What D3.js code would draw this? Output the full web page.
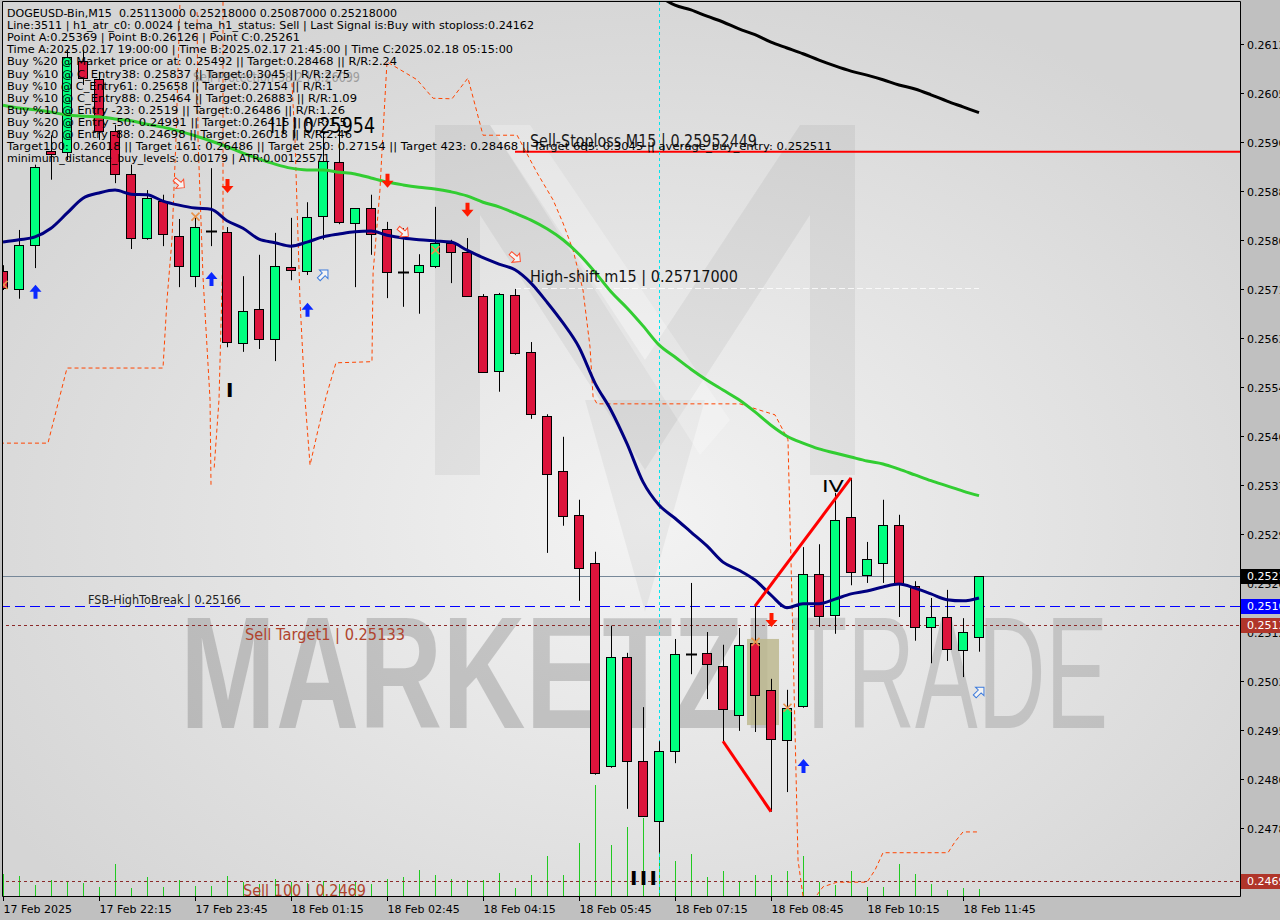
<!DOCTYPE html>
<html><head><meta charset="utf-8">
<script src="https://cdn.jsdelivr.net/npm/d3@7"></script>
<style>body{margin:0;background:#c0c0c0;} svg{display:block;} text{white-space:pre;}</style>
</head><body><svg id="c" width="1280" height="920"></svg>
<script>
// ---------------- DATA ----------------
const timeTicks = ["17 Feb 2025","17 Feb 22:15","17 Feb 23:45","18 Feb 01:15","18 Feb 02:45","18 Feb 04:15","18 Feb 05:45","18 Feb 07:15","18 Feb 08:45","18 Feb 10:15","18 Feb 11:45"];
const opens = [0.25746,0.25715,0.25791,0.25954,0.25952,0.26110,0.26078,0.25988,0.25914,0.25803,
0.25867,0.25807,0.25737,0.25815,0.25814,0.25621,0.25680,0.25628,0.25753,0.25746,
0.25840,0.25935,0.25829,0.25855,0.25819,0.25744,0.25744,0.25755,0.25795,0.25779,
0.25703,0.25573,0.25705,0.25606,0.25495,0.25400,0.25324,0.25241,0.24889,0.25078,
0.24898,0.24794,0.24915,0.25083,0.25085,0.25062,0.24977,0.25102,0.25021,0.24934,
0.24993,0.25222,0.25150,0.25320,0.25220,0.25241,0.25306,0.25201,0.25130,0.25147,
0.25090,0.25113];
const highs = [0.25756,0.25817,0.25930,0.25981,0.26129,0.26129,0.26091,0.25999,0.25930,0.25886,
0.25878,0.25836,0.25838,0.25924,0.25822,0.25737,0.25774,0.25812,0.25838,0.25865,
0.25987,0.25990,0.25855,0.25878,0.25831,0.25820,0.25775,0.25857,0.25800,0.25803,
0.25706,0.25708,0.25715,0.25623,0.25498,0.25459,0.25350,0.25260,0.25132,0.25085,
0.24991,0.24932,0.25109,0.25206,0.25121,0.25099,0.25128,0.25166,0.25040,0.25021,
0.25268,0.25273,0.25362,0.25388,0.25277,0.25350,0.25324,0.25209,0.25180,0.25194,
0.25145,0.25218];
const lows = [0.25713,0.25698,0.25751,0.25904,0.25938,0.26068,0.25973,0.25898,0.25784,0.25800,
0.25789,0.25718,0.25718,0.25789,0.25614,0.25606,0.25611,0.25590,0.25730,0.25739,
0.25800,0.25827,0.25718,0.25774,0.25699,0.25684,0.25672,0.25751,0.25725,0.25701,
0.25571,0.25537,0.25601,0.25490,0.25258,0.25305,0.25175,0.24874,0.24886,0.24815,
0.24801,0.24739,0.24894,0.25048,0.25005,0.24932,0.24950,0.24948,0.24810,0.24844,
0.24990,0.25130,0.25118,0.25202,0.25206,0.25206,0.25147,0.25106,0.25067,0.25071,
0.25043,0.25087];
const closes = [0.25717,0.25791,0.25926,0.25949,0.26116,0.26080,0.25988,0.25914,0.25803,0.25872,
0.25810,0.25755,0.25822,0.25815,0.25623,0.25677,0.25628,0.25755,0.25748,0.25840,
0.25936,0.25831,0.25855,0.25810,0.25744,0.25744,0.25756,0.25795,0.25779,0.25703,
0.25571,0.25706,0.25604,0.25498,0.25395,0.25322,0.25232,0.24877,0.25078,0.24898,
0.24803,0.24915,0.25083,0.25083,0.25066,0.24988,0.25099,0.25012,0.24936,0.24990,
0.25222,0.25150,0.25315,0.25225,0.25248,0.25306,0.25206,0.25130,0.25147,0.25092,
0.25121,0.25218];
const volumes = [550,500,275,400,350,325,225,800,200,475,225,400,250,250,500,350,300,425,350,325,
375,300,350,300,425,475,650,525,425,400,400,575,200,525,1000,525,1325,2775,1275,1725,
1950,1075,875,1050,475,625,350,525,525,625,1000,350,275,625,225,225,800,550,300,150,200,175];
const maFast = [0.25796,0.25800,0.25805,0.25820,0.25846,0.25872,0.25881,0.25886,0.25879,0.25878,
0.25867,0.25860,0.25855,0.25853,0.25833,0.25820,0.25801,0.25795,0.25789,0.25796,
0.25805,0.25810,0.25814,0.25815,0.25808,0.25803,0.25800,0.25798,0.25796,0.25782,
0.25769,0.25758,0.25748,0.25725,0.25692,0.25656,0.25614,0.25552,0.25505,0.25447,
0.25381,0.25341,0.25318,0.25294,0.25270,0.25242,0.25228,0.25211,0.25185,0.25163,
0.25170,0.25170,0.25178,0.25187,0.25192,0.25199,0.25204,0.25197,0.25187,0.25177,
0.25175,0.25180];
const maMid = [0.26033,0.26028,0.26025,0.26021,0.26016,0.26014,0.26013,0.26009,0.26006,0.26000,
0.25995,0.25988,0.25980,0.25971,0.25961,0.25950,0.25940,0.25931,0.25924,0.25921,
0.25921,0.25917,0.25914,0.25907,0.25900,0.25895,0.25891,0.25888,0.25883,0.25876,
0.25865,0.25857,0.25846,0.25834,0.25819,0.25800,0.25775,0.25744,0.25710,0.25682,
0.25651,0.25618,0.25597,0.25576,0.25557,0.25540,0.25523,0.25502,0.25479,0.25460,
0.25448,0.25438,0.25431,0.25424,0.25417,0.25412,0.25403,0.25393,0.25383,0.25374,
0.25365,0.25357];
const maSlowStart = 41;
const maSlow = [0.26222,0.26206,0.26198,0.26187,0.26177,0.26165,0.26155,0.26142,0.26132,0.26122,
0.26111,0.26101,0.26092,0.26085,0.26077,0.26068,0.26061,0.26051,0.26040,0.26030,0.26020];
const priceTicks = [0.26139,0.26054,0.25969,0.25884,0.25800,0.25715,0.25630,0.25545,0.25460,0.25375,
0.25291,0.25206,0.25121,0.25036,0.24951,0.24867,0.24782,0.24697];
// orange channel lines: [barIndex, price]
const chanA = [[-0.19,0.25448],[2.81,0.25448],[4,0.25578],[10,0.25578],[10.25,0.25696],[10.56,0.25800],[10.81,0.25973],[11.06,0.26212]];
const chanB = [[12.13,0.26194],[12.19,0.25973],[12.5,0.25736],[12.94,0.25523],[13.0,0.25376]];
const chanC = [[13.75,0.26212],[13.75,0.25782],[13.5,0.25523],[13.19,0.25402]];
const chanD = [[18.06,0.26071],[18.25,0.25973],[18.56,0.25696],[18.88,0.25523],[19.19,0.25410],[19.69,0.25471],[20.19,0.25528],[20.81,0.25587],[23.06,0.25589],[23.13,0.25743],[23.56,0.25886],[23.69,0.25955],[24.0,0.26108],[25.88,0.26077],[26.88,0.26045],[28.06,0.26044],[29.06,0.26080],[30.0,0.25981],[32.13,0.25981],[33.38,0.25916],[34.38,0.25869],[35.0,0.25829],[35.63,0.25782],[36.25,0.25713],[36.69,0.25614],[36.88,0.25528],[37.13,0.25516],[46.06,0.25516],[47.31,0.25505],[48.25,0.25497],[49.06,0.25454],[49.31,0.25177],[49.69,0.24726],[50.0,0.24664]];
const chanE = [[50.88,0.24666],[51.25,0.24680],[52.13,0.24688],[54.0,0.24688],[54.5,0.24709],[55.0,0.24739],[59.06,0.24739],[59.5,0.24758],[60.0,0.24775],[60.94,0.24775]];
const arrowsUp = [[2,0.25710],[13,0.25732],[19,0.25679],[50,0.24889]];
const arrowsDown = [[14,0.25893],[24,0.25902],[29,0.25852],[48,0.25142]];
const hollowSell = [[11,0.25898],[25,0.25814],[32,0.25770]];
const hollowBuy = [[20,0.25739],[61,0.25017]];
const crossMarks = [[0,0.25722],[12,0.25840],[27,0.25782],[47,0.25104],[49,0.24990]];
const zigUp = [[47,0.25166],[53,0.25388]];
const zigDown = [[45,0.24932],[48,0.24810]];
const boxZone = {from:46.5, to:48.5, top:0.25109, bottom:0.24960};
const levels = {stoploss:0.25952449, stopFrom:32, highShift:0.25717, hsFrom:32, hsTo:61, fsb:0.25166, target1:0.25133, sell100:0.2469, last:0.25218};
const infoLines = [
"DOGEUSD-Bin,M15  0.25113000 0.25218000 0.25087000 0.25218000",
"Line:3511 | h1_atr_c0: 0.0024 | tema_h1_status: Sell | Last Signal is:Buy with stoploss:0.24162",
"Point A:0.25369 | Point B:0.26126 | Point C:0.25261",
"Time A:2025.02.17 19:00:00 | Time B:2025.02.17 21:45:00 | Time C:2025.02.18 05:15:00",
"Buy %20 @ Market price or at: 0.25492 || Target:0.28468 || R/R:2.24",
"Buy %10 @ C_Entry38: 0.25837 || Target:0.3045 || R/R:2.75",
"Buy %10 @ C_Entry61: 0.25658 || Target:0.27154 || R/R:1",
"Buy %10 @ C_Entry88: 0.25464 || Target:0.26883 || R/R:1.09",
"Buy %10 @ Entry -23: 0.2519 || Target:0.26486 || R/R:1.26",
"Buy %20 @ Entry -50: 0.24991 || Target:0.26415 || R/R:1.5",
"Buy %20 @ Entry -88: 0.24698 || Target:0.26018 || R/R:2.46",
"Target100: 0.26018 || Target 161: 0.26486 || Target 250: 0.27154 || Target 423: 0.28468 || Target 685: 0.3045 || average_buy_entry: 0.252511",
"minimum_distance_buy_levels: 0.00179 | ATR:0.00125571"];

// ---------------- LAYOUT ----------------
const L = {left:3, top:2, right:1240, bottom:896};
const infoEnds = [397,534,300,513,397,350,333,357,345,347,352,832,330];
const svg = d3.select("#c");
const x = d3.scaleLinear().domain([0,61]).range([3,979]);
const y = d3.scaleLinear().domain([0.246641,0.262116]).range([896,2]);
const vy = d3.scaleLinear().domain([0,4000]).range([896,736]);
const FONT = "DejaVu Sans";

const defs = svg.append("defs");
const rg = defs.append("radialGradient").attr("id","bg").attr("cx","52%").attr("cy","58%").attr("r","62%");
rg.append("stop").attr("offset","0%").attr("stop-color","#f3f3f3");
rg.append("stop").attr("offset","100%").attr("stop-color","#d5d5d5");
defs.append("clipPath").attr("id","clip").append("rect")
  .attr("x",L.left).attr("y",L.top).attr("width",L.right-L.left).attr("height",L.bottom-L.top);

svg.append("rect").attr("width",1280).attr("height",920).attr("fill","#c0c0c0");
svg.append("rect").attr("x",L.left).attr("y",L.top).attr("width",L.right-L.left).attr("height",L.bottom-L.top).attr("fill","url(#bg)");

const g = svg.append("g").attr("clip-path","url(#clip)");

// background logo
g.append("path").attr("d","M435,475 L435,125 L490,125 L645,360 L800,125 L855,125 L855,475 L810,475 L810,215 L645,470 L480,215 L480,475 Z")
  .attr("fill","#000").attr("opacity",0.05);
g.append("path").attr("d","M585,400 L705,400 L645,612 Z").attr("fill","#000").attr("opacity",0.045);
g.append("path").attr("d","M490,125 L530,125 L730,420 L700,455 Z").attr("fill","#fff").attr("opacity",0.25);

// watermark
g.append("text").attr("x",180).attr("y",728).attr("font-family","Liberation Sans").attr("font-weight","bold")
  .attr("font-size",160).attr("textLength",595).attr("lengthAdjust","spacingAndGlyphs")
  .attr("fill","#000").attr("opacity",0.16).text("MARKETZI");
g.append("text").attr("x",790).attr("y",728).attr("font-family","Liberation Sans").attr("font-weight","normal")
  .attr("font-size",160).attr("textLength",318).attr("lengthAdjust","spacingAndGlyphs")
  .attr("fill","#000").attr("opacity",0.13).text("TRADE");

// khaki zone
g.append("rect").attr("x",x(boxZone.from)).attr("y",y(boxZone.top)).attr("width",x(boxZone.to)-x(boxZone.from))
  .attr("height",y(boxZone.bottom)-y(boxZone.top)).attr("fill","#bdb88f").attr("opacity",0.85);

// volumes
g.selectAll("line.vol").data(volumes).join("line").attr("class","vol").attr("x1",(d,i)=>x(i)+0.5).attr("x2",(d,i)=>x(i)+0.5)
  .attr("y1",896).attr("y2",d=>vy(d)).attr("stroke","#22c922").attr("stroke-width",1).attr("shape-rendering","crispEdges");

// horizontal levels
const hl = (p,x1,x2,stroke,dash,w)=>{
  const yy = Math.round(y(p))+0.5;
  const e = g.append("line").attr("x1",x1).attr("x2",x2).attr("y1",yy).attr("y2",yy).attr("stroke",stroke).attr("stroke-width",w||1);
  if(dash) e.attr("stroke-dasharray",dash);
  return e;
};
hl(levels.last,0,L.right,"#778899");
hl(levels.fsb,0,L.right,"#0000ff","10,5");
hl(levels.target1,0,L.right,"#8b2a2a","3,3");
hl(levels.sell100,0,L.right,"#8b2a2a","3,3");
g.append("line").attr("x1",x(levels.stopFrom)).attr("x2",L.right).attr("y1",y(levels.stoploss)).attr("y2",y(levels.stoploss)).attr("stroke","#ff0000").attr("stroke-width",2);
hl(levels.highShift,x(levels.hsFrom),x(levels.hsTo),"#ffffff","6,3").attr("opacity",0.8);
// cyan vertical
g.append("line").attr("x1",x(41)+0.5).attr("x2",x(41)+0.5).attr("y1",L.top).attr("y2",L.bottom).attr("stroke","#00e5ee").attr("stroke-dasharray","3,3");

// orange channels
const oline = d3.line().x(d=>x(d[0])).y(d=>y(d[1]));
[chanA,chanB,chanC,chanD,chanE].forEach(c=>{
  g.append("path").attr("d",oline(c)).attr("fill","none").attr("stroke","#ff4500").attr("stroke-width",1).attr("stroke-dasharray","4,3");
});

// candles
const idx = d3.range(opens.length);
g.selectAll("line.wick").data(idx).join("line").attr("class","wick").attr("x1",i=>x(i)+0.5).attr("x2",i=>x(i)+0.5)
  .attr("y1",i=>y(highs[i])).attr("y2",i=>y(lows[i])).attr("stroke","#000");
g.selectAll("rect.body").data(idx.filter(i=>opens[i]!==closes[i])).join("rect").attr("class","body")
  .attr("x",i=>x(i)-4.5).attr("width",9)
  .attr("y",i=>Math.round(y(Math.max(opens[i],closes[i])))+0.5)
  .attr("height",i=>Math.max(1,Math.round(y(Math.min(opens[i],closes[i]))-y(Math.max(opens[i],closes[i])))))
  .attr("fill",i=>closes[i]>opens[i]?"#00ff7f":"#dc143c").attr("stroke","#000").attr("stroke-width",1);
g.selectAll("line.doji").data(idx.filter(i=>opens[i]===closes[i])).join("line").attr("class","doji")
  .attr("x1",i=>x(i)-5).attr("x2",i=>x(i)+6).attr("y1",i=>Math.round(y(opens[i]))+0.5).attr("y2",i=>Math.round(y(opens[i]))+0.5)
  .attr("stroke","#000").attr("stroke-width",2);

// moving averages
const maLine = (off)=>d3.line().x((d,i)=>x(i+off)).y(d=>y(d)).curve(d3.curveMonotoneX);
g.append("path").attr("d",maLine(0)(maMid)).attr("fill","none").attr("stroke","#32cd32").attr("stroke-width",3);
g.append("path").attr("d",maLine(0)(maFast)).attr("fill","none").attr("stroke","#000080").attr("stroke-width",3);
g.append("path").attr("d",maLine(maSlowStart)(maSlow)).attr("fill","none").attr("stroke","#000").attr("stroke-width",3);

// zigzag
[zigUp,zigDown].forEach(z=>g.append("path").attr("d",oline(z)).attr("stroke","#ff0000").attr("stroke-width",3).attr("fill","none"));

// markers
const upPath = "M0,-7 L6,0 L2,0 L2,7 L-2,7 L-2,0 L-6,0 Z";
g.selectAll("path.up").data(arrowsUp).join("path").attr("class","up").attr("d",upPath).attr("fill","#0a28ff")
  .attr("transform",d=>`translate(${x(d[0])+0.5},${y(d[1])})`);
g.selectAll("path.dn").data(arrowsDown).join("path").attr("class","dn").attr("d",upPath).attr("fill","#ff1a00")
  .attr("transform",d=>`translate(${x(d[0])+0.5},${y(d[1])}) rotate(180)`);
const hollow = "M-6,-2 L1,-2 L1,-6 L7,0 L1,6 L1,2 L-6,2 Z";
g.selectAll("path.hs").data(hollowSell).join("path").attr("class","hs").attr("d",hollow).attr("fill","#f4f4f4").attr("stroke","#ff4a2a")
  .attr("transform",d=>`translate(${x(d[0])},${y(d[1])}) rotate(40)`);
g.selectAll("path.hb").data(hollowBuy).join("path").attr("class","hb").attr("d",hollow).attr("fill","#f4f4f4").attr("stroke","#3d7bdc")
  .attr("transform",d=>`translate(${x(d[0])},${y(d[1])}) rotate(-45)`);
g.selectAll("path.cx").data(crossMarks).join("path").attr("class","cx").attr("d","M-4,-4 L4,4 M-4,4 L4,-4").attr("stroke","#e8924a").attr("stroke-width",1.6)
  .attr("transform",d=>`translate(${x(d[0])+0.5},${y(d[1])})`);

// chart texts
const t = (xx,yy,str,size,fill,len,extra)=>{
  const e = g.append("text").attr("x",xx).attr("y",yy).attr("font-family",FONT).attr("font-size",size).attr("fill",fill).text(str);
  if(len) e.attr("textLength",len).attr("lengthAdjust","spacingAndGlyphs");
  if(extra) extra(e);
  return e;
};
t(193,82,"Sell-Protection-38.2 | 0.26099",14,"#8a8a8a",167,e=>e.attr("opacity",0.75));
t(530,147,"Sell-Stoploss M15 | 0.25952449",17,"#1a1a1a",227);
t(530,282,"High-shift m15 | 0.25717000",16,"#111",208);
t(88,604,"FSB-HighToBreak | 0.25166",12,"#222",153);
t(245,640,"Sell Target1 | 0.25133",16,"#b0442e",160);
t(243,896,"Sell 100 | 0.2469",16,"#b0442e",123);
t(822,492,"IV",16,"#000",22);
t(226,397,"I",20,"#000",null,e=>e.attr("font-weight","bold"));
t(630,885,"I I I",20,"#000",27,e=>e.attr("font-weight","bold").attr("lengthAdjust","spacing"));

// info block
infoLines.forEach((s,i)=>{
  g.append("text").attr("x",7).attr("y",17+12.1*i).attr("font-family",FONT).attr("font-size",11).attr("fill","#000")
   .attr("textLength",infoEnds[i]-7).attr("lengthAdjust","spacingAndGlyphs").text(s);
});
t(270,133,"I I | 0.25954",22,"#000",105);

// frame
svg.append("path").attr("d",`M${L.left-0.5},${L.top-0.5} H${L.right+0.5} V${L.bottom+0.5} H${L.left-0.5} Z`).attr("fill","none").attr("stroke","#000");

// price axis
const ax = svg.append("g");
priceTicks.forEach(p=>{
  const yy = Math.round(y(p))+0.5;
  ax.append("line").attr("x1",L.right).attr("x2",L.right+4).attr("y1",yy).attr("y2",yy).attr("stroke","#000");
  ax.append("text").attr("x",1247).attr("y",yy+4).attr("font-family",FONT).attr("font-size",11).attr("fill","#000").text(p.toFixed(5));
});
const tag = (p,fill,label)=>{
  const yy = Math.round(y(p));
  ax.append("rect").attr("x",L.right+1).attr("y",yy-7).attr("width",45).attr("height",15).attr("fill",fill);
  ax.append("text").attr("x",1247).attr("y",yy+4).attr("font-family",FONT).attr("font-size",11).attr("fill","#fff").text(label);
};
tag(levels.last,"#000","0.25218");
tag(levels.fsb,"#0000ff","0.25166");
tag(levels.target1,"#b0352a","0.25133");
tag(levels.sell100,"#b0352a","0.24690");

// time axis
timeTicks.forEach((s,i)=>{
  const xx = Math.round(x(i*6))+0.5;
  ax.append("line").attr("x1",xx).attr("x2",xx).attr("y1",L.bottom).attr("y2",L.bottom+5).attr("stroke","#000");
  ax.append("text").attr("x",xx).attr("y",913).attr("font-family",FONT).attr("font-size",11).attr("fill","#000").text(s);
});
</script></body></html>
